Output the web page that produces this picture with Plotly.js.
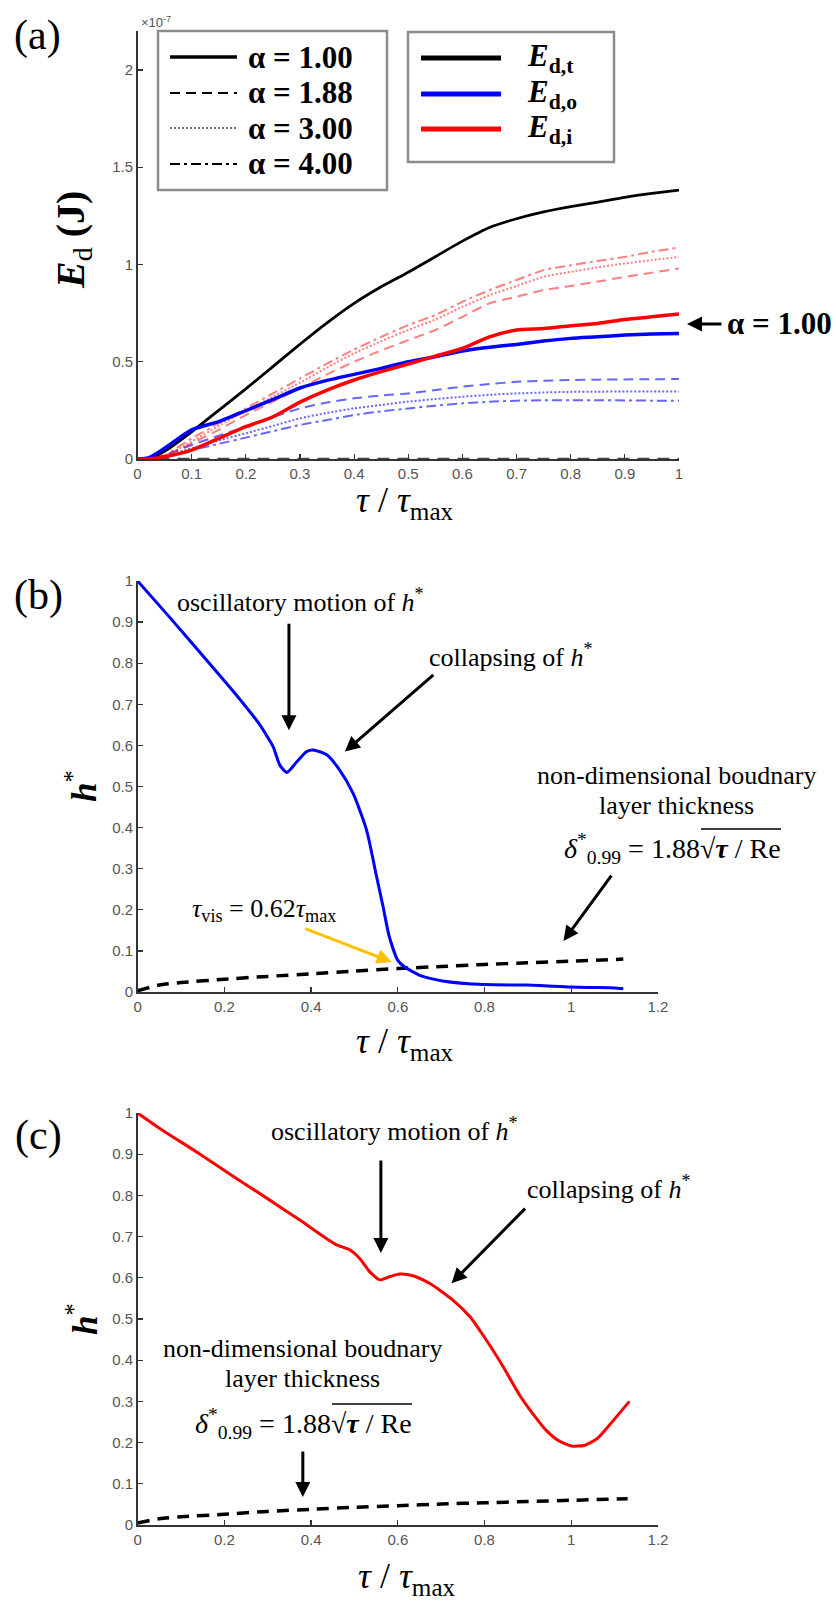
<!DOCTYPE html>
<html><head><meta charset="utf-8">
<script src="https://cdn.plot.ly/plotly-3.0.1.min.js"></script>
<style>html,body{margin:0;padding:0;background:#fff}</style>
</head><body><div id="chart" style="width:836px;height:1604px"></div>
<script>
// ---------- Panel (a): dissipated energy E_d, in units of 1e-7 J ----------
const tauA = [0,0.02,0.05,0.1,0.15,0.2,0.25,0.3,0.35,0.4,0.45,0.5,0.55,0.6,0.65,0.7,0.75,0.8,0.85,0.9,0.95,1.0];
const EdT_a100 = [0,0.003,0.04,0.14,0.25,0.36,0.475,0.59,0.70,0.80,0.885,0.96,1.04,1.12,1.19,1.235,1.27,1.297,1.32,1.345,1.365,1.382];
const EdO_a100 = [0,0.005,0.055,0.15,0.192,0.248,0.306,0.365,0.404,0.435,0.466,0.50,0.526,0.555,0.574,0.589,0.606,0.62,0.628,0.637,0.642,0.645];
const EdI_a100 = [0,0,0.012,0.046,0.106,0.166,0.217,0.292,0.354,0.406,0.449,0.488,0.529,0.568,0.628,0.663,0.671,0.685,0.697,0.717,0.731,0.745];
const EdI_a188 = [0,0,0.012,0.08,0.15,0.226,0.295,0.363,0.435,0.5,0.558,0.611,0.663,0.731,0.80,0.834,0.868,0.889,0.912,0.936,0.958,0.979];
const EdI_a300 = [0,0,0.015,0.09,0.17,0.248,0.32,0.392,0.47,0.543,0.605,0.663,0.717,0.782,0.842,0.889,0.937,0.962,0.985,1.005,1.022,1.039];
const EdI_a400 = [0,0,0.02,0.106,0.183,0.26,0.337,0.414,0.49,0.563,0.628,0.688,0.74,0.808,0.868,0.92,0.971,0.996,1.018,1.039,1.065,1.087];
const EdO_a188 = [0,0,0.02,0.072,0.12,0.166,0.215,0.26,0.29,0.312,0.326,0.337,0.355,0.372,0.385,0.397,0.402,0.406,0.408,0.409,0.41,0.411];
const EdO_a300 = [0,0,0.015,0.055,0.095,0.132,0.17,0.209,0.237,0.26,0.278,0.295,0.308,0.32,0.33,0.337,0.342,0.345,0.346,0.347,0.347,0.347];
const EdO_a400 = [0,0,0.012,0.046,0.078,0.11,0.143,0.175,0.2,0.226,0.245,0.26,0.274,0.286,0.294,0.30,0.302,0.302,0.302,0.301,0.30,0.30];
const zeroLineX = [0,1];
const zeroLineY = [0,0];

// ---------- Panel (b): h* (outer) ----------
const tauB = [0,0.067,0.144,0.221,0.282,0.297,0.313,0.328,0.344,0.367,0.39,0.405,0.436,0.466,0.497,0.528,0.551,0.566,0.58,0.6,0.616,0.654,0.703,0.8,0.9,1.0,1.05,1.1,1.12];
const hB   = [1.0,0.920,0.826,0.731,0.65,0.625,0.596,0.552,0.534,0.56,0.585,0.589,0.577,0.54,0.483,0.394,0.281,0.208,0.136,0.077,0.061,0.039,0.027,0.018,0.017,0.012,0.011,0.01,0.008];
const tauDB = [0,0.05,0.1,0.2,0.3,0.4,0.5,0.6,0.7,0.8,0.9,1.0,1.12];
const deltaB = [0.003,0.017,0.023,0.031,0.038,0.044,0.051,0.057,0.062,0.067,0.071,0.075,0.08];

// ---------- Panel (c): h* (inner) ----------
const tauC = [0,0.052,0.144,0.221,0.297,0.374,0.436,0.459,0.489,0.512,0.535,0.559,0.582,0.605,0.635,0.674,0.727,0.766,0.804,0.843,0.881,0.92,0.94,0.97,1.0,1.03,1.06,1.09,1.134];
const hC   = [1.0,0.962,0.9,0.846,0.794,0.74,0.695,0.68,0.668,0.647,0.615,0.595,0.603,0.609,0.605,0.586,0.546,0.506,0.449,0.384,0.315,0.258,0.232,0.205,0.192,0.193,0.21,0.245,0.30];
const tauDC = [0,0.05,0.1,0.2,0.3,0.4,0.5,0.6,0.7,0.8,0.9,1.0,1.13];
const deltaC = [0.005,0.015,0.02,0.026,0.033,0.038,0.043,0.047,0.051,0.054,0.057,0.06,0.064];

// legend labels
const alphaLabels = ['α = 1.00','α = 1.88','α = 3.00','α = 4.00'];
const energyLabels = ['d,t','d,o','d,i'];
const energyColors = ['#000000','#0000ff','#ff0000'];
const alphaDash = ['solid','10px,6px','2px,2px','10px,4px,3px,4px'];

const W = 836, H = 1604;
const PX = v => v / W, PY = v => 1 - v / H;

const redF = 'rgba(255,0,0,0.5)', blueF = 'rgba(0,0,255,0.6)';
function ln(x, y, color, width, dash, xa, ya, shape) {
  return {x, y, type:'scatter', mode:'lines', xaxis:xa, yaxis:ya, showlegend:false, hoverinfo:'skip',
    line:{color, width, dash: dash || 'solid', shape: shape || 'spline', smoothing: 0.6}};
}
const traces = [
  ln(tauA, EdO_a188, blueF, 2, alphaDash[1], 'x', 'y'),
  ln(tauA, EdO_a300, blueF, 2, alphaDash[2], 'x', 'y'),
  ln(tauA, EdO_a400, blueF, 2, alphaDash[3], 'x', 'y'),
  ln(tauA, EdI_a188, redF, 2, alphaDash[1], 'x', 'y'),
  ln(tauA, EdI_a300, redF, 2, alphaDash[2], 'x', 'y'),
  ln(tauA, EdI_a400, redF, 2, alphaDash[3], 'x', 'y'),
  ln(zeroLineX, zeroLineY, '#444', 2.5, '12px,8px', 'x', 'y', 'linear'),
  ln(tauA, EdT_a100, '#000', 2.8, 'solid', 'x', 'y'),
  ln(tauA, EdO_a100, '#0000ff', 3.5, 'solid', 'x', 'y'),
  ln(tauA, EdI_a100, '#ff0000', 3.5, 'solid', 'x', 'y'),
  ln(tauDB, deltaB, '#000', 3.5, '12px,8px', 'x2', 'y2'),
  ln(tauB, hB, '#0000ff', 3, 'solid', 'x2', 'y2'),
  ln(tauDC, deltaC, '#000', 3.5, '12px,8px', 'x3', 'y3'),
  ln(tauC, hC, '#ff0000', 3, 'solid', 'x3', 'y3'),
];

const SERIF = 'Liberation Serif, Times New Roman, serif';
const SANS = 'Liberation Sans, Arial, sans-serif';
const axBase = {showline:true, linecolor:'#333', linewidth:1.5, ticks:'inside', ticklen:5, tickwidth:1.2,
  tickcolor:'#333', showgrid:false, zeroline:false, tickfont:{family:SANS, size:15, color:'#555'}, fixedrange:true};

const layout = {
  width: W, height: H, margin:{l:0,r:0,t:0,b:0}, paper_bgcolor:'#fff', plot_bgcolor:'rgba(0,0,0,0)',
  showlegend:false,
  xaxis: Object.assign({}, axBase, {domain:[PX(137.5), PX(679)], range:[0,1], tick0:0, dtick:0.1, anchor:'y'}),
  yaxis: Object.assign({}, axBase, {domain:[PY(459), PY(31)], range:[0,2.2], tick0:0, dtick:0.5, anchor:'x'}),
  xaxis2: Object.assign({}, axBase, {domain:[PX(137.6), PX(658)], range:[0,1.2], tick0:0, dtick:0.2, anchor:'y2'}),
  yaxis2: Object.assign({}, axBase, {domain:[PY(992), PY(581)], range:[0,1], tick0:0, dtick:0.1, anchor:'x2'}),
  xaxis3: Object.assign({}, axBase, {domain:[PX(137.6), PX(658)], range:[0,1.2], tick0:0, dtick:0.2, anchor:'y3'}),
  yaxis3: Object.assign({}, axBase, {domain:[PY(1525), PY(1113)], range:[0,1], tick0:0, dtick:0.1, anchor:'x3'}),
  shapes: [], annotations: []
};

const A = layout.annotations, S = layout.shapes;
function txt(x, y, text, size, opts) {
  A.push(Object.assign({xref:'paper', yref:'paper', x:PX(x), y:PY(y), text, showarrow:false,
    xanchor:'center', yanchor:'middle', font:{family:SERIF, size, color:'#000'}}, opts || {}));
}
function arrow(xr, yr, x, y, ax, ay, color) {
  A.push({xref:xr, yref:yr, x, y, ax, ay, text:'', showarrow:true, arrowhead:2, arrowsize:1,
    arrowwidth:3, arrowcolor: color || '#000'});
}
function seg(x0, y0, x1, y1, color, width, dash) {
  S.push({type:'line', xref:'paper', yref:'paper', x0:PX(x0), y0:PY(y0), x1:PX(x1), y1:PY(y1),
    line:{color, width, dash: dash || 'solid'}});
}

// panel labels
txt(37, 35, '(a)', 42); txt(38, 595, '(b)', 42); txt(38, 1135, '(c)', 42);
// exponent
txt(139, 22, '×10<sup>-7</sup>', 13, {xanchor:'left', font:{family:SANS, size:13, color:'#555'}});
// axis titles
txt(73, 240, '<b><i>E</i></b><sub>d</sub> <b>(J)</b>', 40, {textangle:-90});
txt(82, 786, '<b><i>h</i></b><sup>*</sup>', 35, {textangle:-90});
txt(82, 1319, '<b><i>h</i></b><sup>*</sup>', 35, {textangle:-90});
const xTitle = '<i>τ</i> / <i>τ</i><sub>max</sub>';
txt(405, 503, xTitle, 36); txt(405, 1043, xTitle, 36); txt(407, 1578, xTitle, 36);

// legend 1 (line styles)
S.push({type:'rect', xref:'paper', yref:'paper', x0:PX(158), x1:PX(387), y0:PY(190), y1:PY(31), line:{color:'#8c8c8c', width:2.5}});
const rows1 = [57, 93, 128, 164];
const w1 = [3.5, 2, 1.5, 2];
alphaLabels.forEach((lab, i) => {
  seg(170, rows1[i], 237, rows1[i], i === 2 ? '#444' : '#000', w1[i], alphaDash[i]);
  txt(246, rows1[i], '<b>' + lab + '</b>', 31, {xanchor:'left'});
});
// legend 2 (energies)
S.push({type:'rect', xref:'paper', yref:'paper', x0:PX(408), x1:PX(614), y0:PY(162), y1:PY(32), line:{color:'#8c8c8c', width:2.5}});
const rows2 = [58, 94, 129];
energyLabels.forEach((lab, i) => {
  seg(421, rows2[i], 501, rows2[i], energyColors[i], 5);
  txt(525, rows2[i], '<b><i>E</i><sub>' + lab + '</sub></b>', 31, {xanchor:'left'});
});
// alpha = 1.00 pointer
arrow('paper', 'paper', PX(687), PY(324), 36, 0);
txt(725, 324, '<b>α = 1.00</b>', 31, {xanchor:'left'});

// panel (b) annotations
const osc = 'oscillatory motion of <i>h</i><sup>*</sup>';
const col = 'collapsing of <i>h</i><sup>*</sup>';
const ndb1 = 'non-dimensional boudnary', ndb2 = 'layer thickness';
const formula = '<i>δ</i><sup>*</sup><sub>0.99</sub> = 1.88√<b><i>τ</i></b> / Re';
txt(300, 600, osc, 26);
arrow('x2', 'y2', 0.349, 0.637, 0, -108);
txt(511, 655, col, 26);
arrow('x2', 'y2', 0.478, 0.585, 90, -78);
txt(676, 775, ndb1, 26);
txt(676, 805, ndb2, 26);
txt(672, 848, formula, 28);
seg(701, 829, 781, 829, '#000', 1.5);
arrow('x2', 'y2', 0.982, 0.124, 49, -67);
txt(264, 910, '<i>τ</i><sub>vis</sub> = 0.62<i>τ</i><sub>max</sub>', 26);
arrow('x2', 'y2', 0.586, 0.073, -88, -34, '#FFC000');

// panel (c) annotations
txt(394, 1129, osc, 26);
arrow('x3', 'y3', 0.561, 0.66, 0, -94);
txt(609, 1187, col, 26);
arrow('x3', 'y3', 0.724, 0.587, 75, -76);
txt(302, 1348, ndb1, 26);
txt(302, 1378, ndb2, 26);
txt(303, 1423, formula, 28);
seg(332, 1404, 412, 1404, '#000', 1.5);
arrow('x3', 'y3', 0.381, 0.068, 0, -47);

Plotly.newPlot('chart', traces, layout, {staticPlot:true, displayModeBar:false});
</script></body></html>
